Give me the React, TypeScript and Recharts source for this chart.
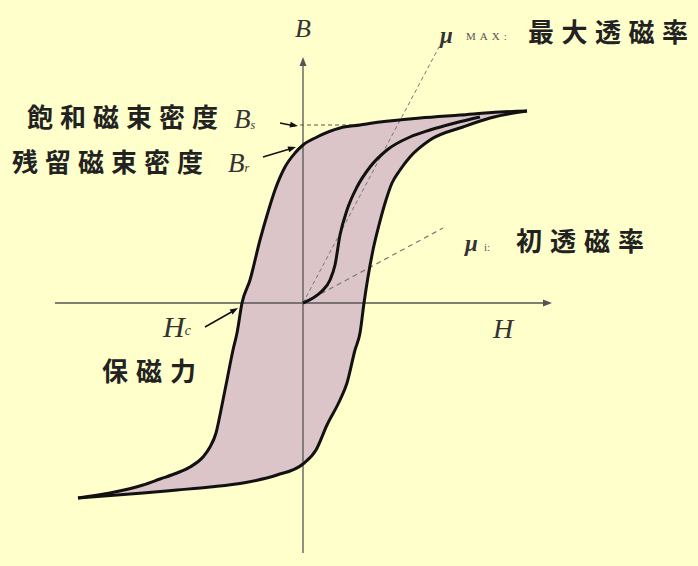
import React from 'react';
import { ComposedChart, Line, Area, XAxis, YAxis, ReferenceLine, ReferenceDot } from 'recharts';

type Pt = { h: number; b: number };

// upper (descending) branch of the loop, listed by increasing H
const descending: Pt[] = [
  { h: -22.5, b: -19.5 }, { h: -19.3, b: -19.0 }, { h: -16.0, b: -18.2 }, { h: -14.3, b: -17.6 },
  { h: -12.6, b: -17.0 }, { h: -11.3, b: -16.4 }, { h: -10.0, b: -15.4 }, { h: -9.3, b: -14.4 },
  { h: -8.7, b: -13.0 }, { h: -8.3, b: -11.2 }, { h: -8.0, b: -9.7 }, { h: -7.6, b: -7.7 },
  { h: -7.0, b: -4.7 }, { h: -6.6, b: -3.0 }, { h: -6.1, b: 0 }, { h: -5.3, b: 2.3 },
  { h: -4.3, b: 6.3 }, { h: -3.5, b: 9.1 }, { h: -2.8, b: 11.3 }, { h: -1.8, b: 13.6 },
  { h: -0.8, b: 15.0 }, { h: 0, b: 15.8 }, { h: 1.4, b: 16.6 }, { h: 3.7, b: 17.5 },
  { h: 5.7, b: 17.8 }, { h: 7.7, b: 18.1 }, { h: 11.7, b: 18.5 }, { h: 15.7, b: 18.8 },
  { h: 19.7, b: 19.1 }, { h: 22.4, b: 19.2 },
];

// lower (ascending) branch of the loop
const ascending: Pt[] = [
  { h: -22.5, b: -19.5 }, { h: -16.0, b: -19.0 }, { h: -12.6, b: -18.7 }, { h: -9.3, b: -18.4 },
  { h: -6.0, b: -18.0 }, { h: -2.6, b: -17.2 }, { h: 0, b: -16.1 }, { h: 1.3, b: -14.7 },
  { h: 2.4, b: -12.2 }, { h: 3.7, b: -9.7 }, { h: 4.4, b: -8.0 }, { h: 5.2, b: -4.7 },
  { h: 5.7, b: -3.0 }, { h: 6.1, b: 0 }, { h: 7.0, b: 5.3 }, { h: 7.6, b: 7.8 },
  { h: 8.3, b: 10.3 }, { h: 8.9, b: 12.0 }, { h: 9.7, b: 13.3 }, { h: 10.7, b: 14.6 },
  { h: 12.7, b: 16.3 }, { h: 16.0, b: 17.6 }, { h: 18.7, b: 18.5 }, { h: 22.4, b: 19.2 },
];

// initial magnetisation curve from the origin
const initial: Pt[] = [
  { h: 0, b: 0 }, { h: 1.0, b: 0.5 }, { h: 1.9, b: 1.2 }, { h: 2.7, b: 2.3 }, { h: 3.2, b: 3.8 },
  { h: 3.7, b: 6.8 }, { h: 4.4, b: 9.3 }, { h: 5.4, b: 11.6 }, { h: 6.7, b: 13.6 },
  { h: 8.4, b: 15.3 }, { h: 10.7, b: 16.6 }, { h: 12.7, b: 17.3 }, { h: 15.2, b: 18.0 },
  { h: 17.7, b: 18.6 },
];

// closed loop for the shaded area
const loop: Pt[] = ascending.concat([...descending].reverse());

const muMaxLine = [{ x: 0, y: 0 }, { x: 13.6, y: 25.6 }];
const muInitLine = [{ x: 1.0, y: 0.5 }, { x: 14.0, y: 7.5 }];
const bsLevel = 17.8;

const BG = '#FFFFCC';
const LOOP_FILL = '#DBC5C9';
const INK = '#111';
const AXIS = '#555';

const cjk = { fontFamily: '"Noto Sans CJK JP", sans-serif', fontWeight: 700, fontSize: 26, fill: '#222' };
const serif = { fontFamily: '"Liberation Serif", "DejaVu Serif", serif', fontStyle: 'italic' as const, fill: '#333' };
const small = { fontFamily: '"Liberation Serif", serif', fill: '#555' };

const arrowHead = (angle: number, len = 9, half = 3.5, color = AXIS) => (props: any) => (
  <polygon
    points={`0,0 ${-len},${-half} ${-len},${half}`}
    transform={`translate(${props.cx},${props.cy}) rotate(${angle})`}
    fill={color}
  />
);

export default function App() {
  return (
    <div style={{ position: 'absolute', left: 0, top: 0, width: 698, height: 566, background: BG }}>
      <ComposedChart width={698} height={566} margin={{ top: 0, right: 0, bottom: 0, left: 0 }}>
        <XAxis type="number" dataKey="h" domain={[-30.3, 39.5]} allowDataOverflow hide />
        <YAxis type="number" dataKey="b" domain={[-26.3, 30.3]} allowDataOverflow hide />

        <Area data={loop} dataKey="b" type="linear" fill={LOOP_FILL} fillOpacity={1} stroke="none"
          dot={false} activeDot={false} isAnimationActive={false} />

        {/* axes */}
        <ReferenceLine segment={[{ x: -24.8, y: 0 }, { x: 24.6, y: 0 }]} stroke={AXIS} strokeWidth={1.3} />
        <ReferenceLine segment={[{ x: 0, y: -25 }, { x: 0, y: 24.3 }]} stroke={AXIS} strokeWidth={1.3} />
        <ReferenceDot x={24.9} y={0} r={0} shape={arrowHead(0)} />
        <ReferenceDot x={0} y={24.6} r={0} shape={arrowHead(-90)} />

        {/* permeability guides */}
        <ReferenceLine segment={muMaxLine} stroke="#777" strokeWidth={1} strokeDasharray="4 3" />
        <ReferenceLine segment={muInitLine} stroke="#777" strokeWidth={1.2} strokeDasharray="5 4" />
        <ReferenceLine segment={[{ x: -0.3, y: bsLevel }, { x: 6, y: bsLevel }]} stroke="#555" strokeWidth={1.2} strokeDasharray="4 3" />

        <Line data={descending} dataKey="b" type="monotone" stroke={INK} strokeWidth={3} dot={false} activeDot={false} isAnimationActive={false} />
        <Line data={ascending} dataKey="b" type="monotone" stroke={INK} strokeWidth={3} dot={false} activeDot={false} isAnimationActive={false} />
        <Line data={initial} dataKey="b" type="monotone" stroke={INK} strokeWidth={3} dot={false} activeDot={false} isAnimationActive={false} />

        {/* label pointers */}
        <ReferenceLine segment={[{ x: -2.3, y: 18.0 }, { x: -0.8, y: 17.7 }]} stroke={INK} strokeWidth={1.5} />
        <ReferenceDot x={-0.5} y={17.7} r={0} shape={arrowHead(10, 8, 3, INK)} />
        <ReferenceLine segment={[{ x: -4.0, y: 14.6 }, { x: -1.0, y: 15.5 }]} stroke={INK} strokeWidth={1.5} />
        <ReferenceDot x={-0.7} y={15.6} r={0} shape={arrowHead(-17, 8, 3, INK)} />
        <ReferenceLine segment={[{ x: -9.8, y: -2.4 }, { x: -6.8, y: -0.7 }]} stroke={INK} strokeWidth={1.5} />
        <ReferenceDot x={-6.5} y={-0.5} r={0} shape={arrowHead(-30, 8, 3, INK)} />

        <text x={303} y={37} textAnchor="middle" fontSize={26} style={serif}>B</text>
        <text x={503} y={338} textAnchor="middle" fontSize={28} style={serif}>H</text>

        <text x={27} y={127} letterSpacing={7} style={cjk}>飽和磁束密度</text>
        <text x={234} y={128} fontSize={27} style={serif}>B<tspan fontSize={12} dy={1}>s</tspan></text>
        <text x={12} y={172} letterSpacing={7} style={cjk}>残留磁束密度</text>
        <text x={228} y={172} fontSize={27} style={serif}>B<tspan fontSize={12}>r</tspan></text>

        <text x={163} y={337} fontSize={30} style={serif}>H<tspan fontSize={14} dy={-2}>c</tspan></text>
        <text x={102} y={381} letterSpacing={8} style={cjk}>保磁力</text>

        <text x={440} y={43} fontSize={23} fontWeight={700} style={serif}>μ</text>
        <text x={466} y={40} fontSize={11} letterSpacing={4} style={small}>MAX:</text>
        <text x={528} y={42} fontSize={25} letterSpacing={7.5} style={cjk}>最大透磁率</text>

        <text x={465} y={251} fontSize={23} fontWeight={700} style={serif}>μ</text>
        <text x={484} y={251} fontSize={11} style={small}>i:</text>
        <text x={516} y={251} letterSpacing={8} style={cjk}>初透磁率</text>
      </ComposedChart>
    </div>
  );
}
